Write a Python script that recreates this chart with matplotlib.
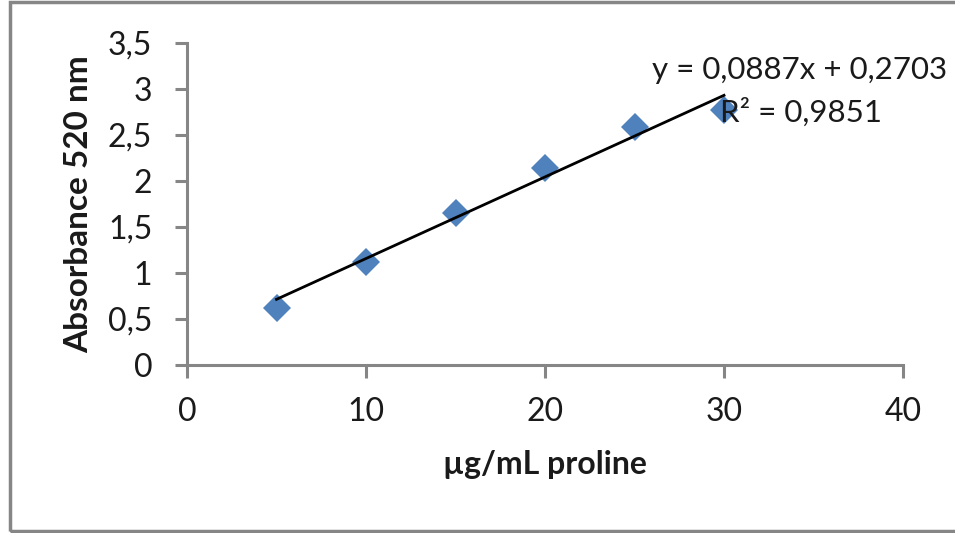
import matplotlib
matplotlib.use("Agg")
import matplotlib.pyplot as plt
from matplotlib.patches import Rectangle
import numpy as np

# proline standard curve
concentration = [5, 10, 15, 20, 25, 30]
absorbance = [0.62, 1.12, 1.65, 2.14, 2.59, 2.77]

# linear trendline as reported
slope = 0.0887
intercept = 0.2703
r_squared = 0.9851

x_ticks = [0, 10, 20, 30, 40]
y_ticks = [0, 0.5, 1, 1.5, 2, 2.5, 3, 3.5]

GRAY = "#868686"
BLUE = "#4F81BD"
INK = "#1a1a1a"
TEXT_FONT = ["Lato", "DejaVu Sans"]


def comma(v):
    s = f"{v:g}"
    return s.replace(".", ",")


fig = plt.figure(figsize=(9.55, 5.33), dpi=100)
ax = fig.add_axes([187 / 955, 168 / 533, 716 / 955, 322 / 533])

# trendline over the measured range
fit_x = np.array([concentration[0], concentration[-1]])
fit_y = slope * fit_x + intercept
ax.plot(fit_x, fit_y, color="black", linewidth=2.0, zorder=3)

ax.plot(concentration, absorbance, linestyle="none", marker="D",
        markersize=14, color=BLUE, markeredgewidth=0, zorder=2)

ax.set_xlim(0, 40)
ax.set_ylim(0, 3.5)
ax.set_xticks(x_ticks)
ax.set_yticks(y_ticks)
ax.set_xticklabels([comma(v) for v in x_ticks], family=TEXT_FONT, fontsize=23)
ax.set_yticklabels([comma(v) for v in y_ticks], family=TEXT_FONT, fontsize=23)

for side in ("top", "right"):
    ax.spines[side].set_visible(False)
for side in ("left", "bottom"):
    ax.spines[side].set_color(GRAY)
    ax.spines[side].set_linewidth(2.2)
ax.tick_params(axis="both", direction="out", length=9, width=2.2,
               color=GRAY, labelcolor=INK)
ax.tick_params(axis="y", pad=16)
ax.tick_params(axis="x", pad=14)

ax.set_xlabel("µg/mL proline", family=TEXT_FONT, fontsize=23,
              fontweight="bold", color=INK, va="top")
ax.set_ylabel("Absorbance 520 nm", family=TEXT_FONT, fontsize=24,
              fontweight="bold", color=INK)
ax.xaxis.set_label_coords(0.5, -0.265)
ax.yaxis.set_label_coords(-0.131, 0.5)

eq = f"y = {comma(slope)}x + {comma(intercept)}"
ax.text(26.0, 3.21, eq, family=TEXT_FONT, fontsize=22.5, ha="left",
        va="center", color=INK, clip_on=False)
ax.text(29.8, 2.75, f"R² = {comma(r_squared)}", family=TEXT_FONT,
        fontsize=22.5, ha="left", va="center", color=INK, clip_on=False)

# chart frame (right edge runs off the canvas)
fig.patches.append(Rectangle((10 / 955, 2 / 533), 1.0, 529 / 533,
                             transform=fig.transFigure, fill=False,
                             edgecolor=GRAY, linewidth=2.5))

fig.savefig("out.png", dpi=100, facecolor="white")
